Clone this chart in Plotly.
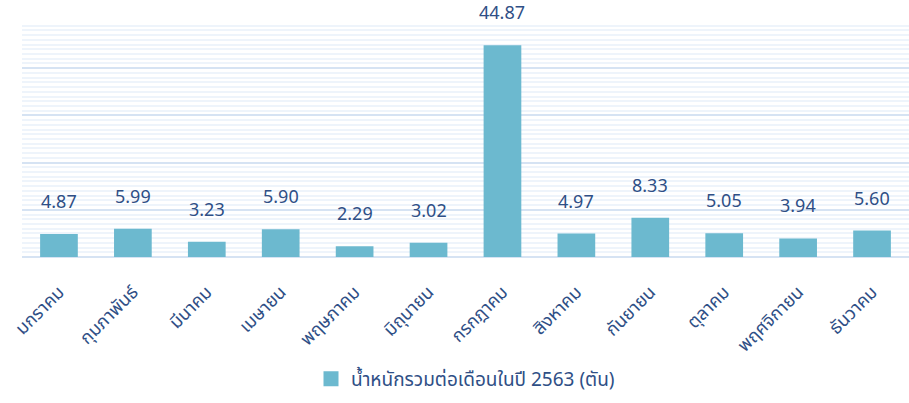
import plotly.graph_objects as go

# Monthly totals (tons), year 2563
months = ["มกราคม", "กุมภาพันธ์", "มีนาคม", "เมษายน", "พฤษภาคม", "มิถุนายน",
          "กรกฎาคม", "สิงหาคม", "กันยายน", "ตุลาคม", "พฤศจิกายน", "ธันวาคม"]
weights = [4.87, 5.99, 3.23, 5.90, 2.29, 3.02, 44.87, 4.97, 8.33, 5.05, 3.94, 5.60]
series_name = "น้ำหนักรวมต่อเดือนในปี 2563 (ตัน)"

TEXT_COLOR = "#2f4f86"
BAR_COLOR = "#6cb9cf"
FONT = "Noto Sans Thai, Noto Sans, sans-serif"

fig = go.Figure()
fig.add_trace(go.Bar(
    x=months,
    y=weights,
    name=series_name,
    legendgroup="w",
    marker=dict(color=BAR_COLOR, line=dict(width=0)),
    showlegend=False,
))
# legend entry with a larger square swatch
fig.add_trace(go.Scatter(
    x=[months[0]], y=[None],
    mode="markers",
    name=series_name,
    legendgroup="w",
    marker=dict(symbol="square", size=15, color=BAR_COLOR),
    showlegend=True,
    hoverinfo="skip",
))

# value labels floating above each bar
for m, v in zip(months, weights):
    fig.add_annotation(
        x=m, y=v, text=f"{v:.2f}", showarrow=False,
        yanchor="bottom", yshift=16,
        font=dict(size=18, color=TEXT_COLOR, family=FONT),
    )

fig.update_layout(
    width=909, height=403,
    margin=dict(l=22, r=0, t=21, b=146, autoexpand=False),
    paper_bgcolor="white",
    plot_bgcolor="white",
    bargap=0.49,
    font=dict(family=FONT, color=TEXT_COLOR),
    legend=dict(
        orientation="h", x=0.5, xanchor="center",
        yref="container", y=0.06, yanchor="middle",
        font=dict(size=19, color=TEXT_COLOR, family=FONT),
        itemsizing="trace",
        tracegroupgap=0,
    ),
    xaxis=dict(
        range=[-0.5, len(months) - 0.5],
        tickangle=-45,
        tickfont=dict(size=18, color=TEXT_COLOR, family=FONT),
        ticklabelstandoff=20,
        showgrid=False,
        showline=False,
        ticks="",
        fixedrange=True,
    ),
    yaxis=dict(
        range=[0, 50],
        dtick=10,
        showticklabels=False,
        showgrid=True,
        gridcolor="#d6e3f3",
        gridwidth=2,
        zeroline=True,
        zerolinecolor="#d6e3f3",
        zerolinewidth=2,
        minor=dict(dtick=1, showgrid=True, gridcolor="#eef4fb", gridwidth=2),
        fixedrange=True,
    ),
)

fig.write_html("out.html")
